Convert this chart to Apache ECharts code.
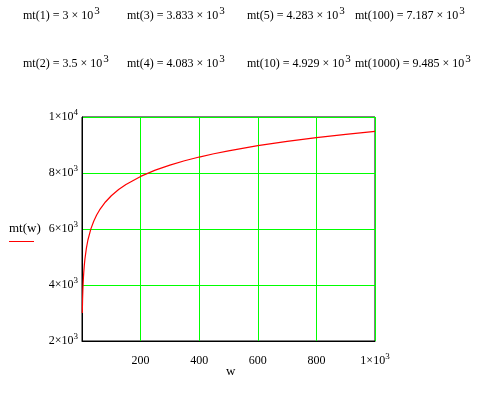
<!DOCTYPE html>
<html><head><meta charset="utf-8">
<script src="https://cdn.jsdelivr.net/npm/echarts@6/dist/echarts.min.js"></script>
<style>html,body{margin:0;padding:0;background:#fff}#c{width:497px;height:393px}</style>
</head><body><div id="c"></div>
<script>
// Printed evaluations (argument, mantissa of value x 10^3)
const calcArgs = ['1', '3', '5', '100', '2', '4', '10', '1000'];
const calcMantissas = ['3', '3.833', '4.283', '7.187', '3.5', '4.083', '4.929', '9.485'];
// Curve samples
const wValues = [1, 2, 3, 4, 5, 6, 8, 10, 15, 20, 30, 40, 50, 60, 80, 100, 125, 150, 200, 250, 300, 350, 400, 450, 500, 600, 700, 800, 900, 1000];
const mtValues = [3000, 3500, 3833, 4083, 4283, 4450, 4718, 4929, 5318, 5598, 5995, 6279, 6499, 6680, 6965, 7187, 7410, 7592, 7878, 8101, 8283, 8437, 8570, 8688, 8793, 8975, 9129, 9263, 9380, 9485];
const xTicks = [200, 400, 600, 800, 1000];
const yTicks = [2000, 4000, 6000, 8000, 10000];

const FONT = '"Liberation Serif","DejaVu Serif",serif';
const richTop = {
  b: {fontFamily: FONT, fontSize: 12, color: '#000', lineHeight: 20},
  s: {fontFamily: FONT, fontSize: 11, color: '#000', verticalAlign: 'top', lineHeight: 20, padding: [0, 0, 0, 1]}
};
const richTick = {
  b: {fontFamily: FONT, fontSize: 12, color: '#000', lineHeight: 17},
  s: {fontFamily: FONT, fontSize: 9, color: '#000', verticalAlign: 'top', lineHeight: 17}
};
function sci(v) {
  if (v >= 1000) {
    const e = Math.floor(Math.log10(v));
    const m = Math.round(v / Math.pow(10, e));
    return '{b|' + m + '×10}{s|' + e + '}';
  }
  return '{b|' + v + '}';
}

const chart = echarts.init(document.getElementById('c'), null, {renderer: 'canvas'});
const colX = [23, 127, 247, 355];
const rowY = [6, 54];
const graphics = [];
calcArgs.forEach((a, i) => {
  const col = i % 4, row = Math.floor(i / 4);
  graphics.push({
    type: 'text', left: colX[col], top: rowY[row],
    style: {
      text: '{b|mt(' + a + ') = ' + calcMantissas[i] + ' × 10}{s|3}',
      rich: richTop
    }
  });
});
graphics.push({type: 'text', left: 9, top: 222, style: {text: 'mt(w)', font: '13px ' + FONT, fill: '#000'}});
graphics.push({type: 'line', shape: {x1: 9, y1: 241.5, x2: 34, y2: 241.5}, style: {stroke: '#ff0000', lineWidth: 1}});
graphics.push({type: 'text', left: 226, top: 365, style: {text: 'w', font: '13px ' + FONT, fill: '#000'}});

chart.setOption({
  animation: false,
  grid: {left: 82, right: 122, top: 117, bottom: 52, show: true, borderColor: '#000', borderWidth: 1},
  xAxis: {
    type: 'value', min: 0, max: 1000, interval: 200,
    axisLine: {show: true, lineStyle: {color: '#000'}},
    axisTick: {show: false},
    splitLine: {show: true, lineStyle: {color: '#00ff00', width: 1}},
    axisLabel: {
      margin: 11,
      formatter: v => (xTicks.indexOf(v) >= 0 ? sci(v) : ''),
      rich: richTick
    }
  },
  yAxis: {
    type: 'value', min: 2000, max: 10000, interval: 2000,
    axisLine: {show: true, lineStyle: {color: '#000'}},
    axisTick: {show: false},
    splitLine: {show: true, lineStyle: {color: '#00ff00', width: 1}},
    axisLabel: {
      margin: 4,
      formatter: v => (yTicks.indexOf(v) >= 0 ? sci(v) : ''),
      rich: richTick
    }
  },
  series: [{
    type: 'line',
    data: wValues.map((w, i) => [w, mtValues[i]]),
    showSymbol: false,
    smooth: false,
    lineStyle: {color: '#ff0000', width: 1.2},
    z: 5
  }],
  graphic: graphics
});
</script>
</body></html>
